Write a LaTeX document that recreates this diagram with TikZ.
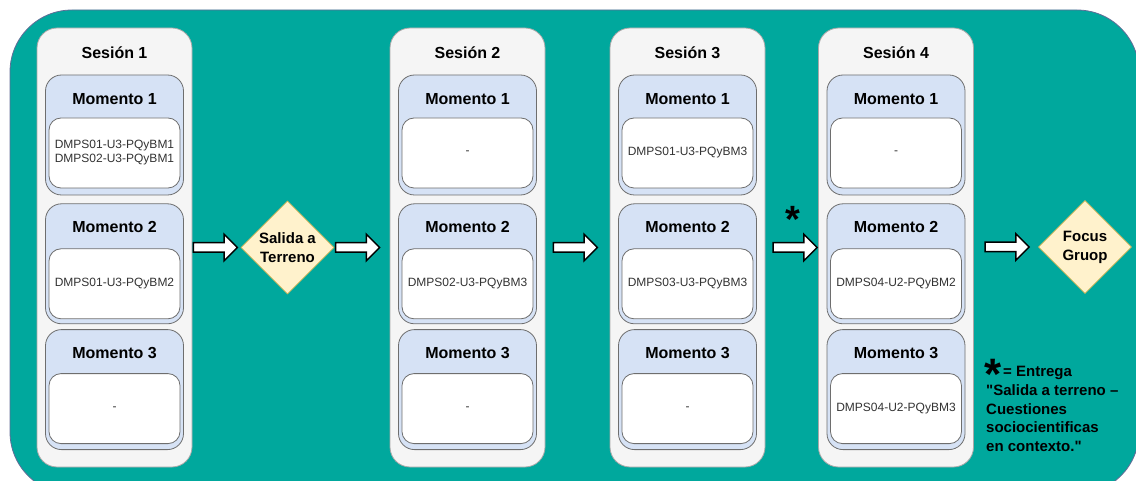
\documentclass[tikz,border=0pt]{standalone}
\usepackage{fontspec}
\setmainfont{Liberation Sans}[Ligatures=TeXOff]
\usetikzlibrary{positioning,shapes.geometric,shapes.arrows}

\definecolor{fondo}{RGB}{0,168,157}
\definecolor{fondoborde}{RGB}{98,108,150}
\definecolor{sesionfill}{RGB}{245,245,245}
\definecolor{momentofill}{RGB}{214,226,245}
\definecolor{decisionfill}{RGB}{255,242,204}
\definecolor{decisionborde}{RGB}{214,182,86}
\definecolor{borde}{RGB}{110,110,110}

\begin{document}
\begin{tikzpicture}[x=1pt, y=-1pt,
  session_box/.style={draw=borde!60, line width=0.8pt, fill=sesionfill, rounded corners=20pt,
    minimum width=155pt, minimum height=439pt, inner sep=0pt},
  momento_box/.style={draw=borde, line width=0.8pt, fill=momentofill, rounded corners=16pt,
    minimum width=138pt, minimum height=120pt, inner sep=0pt},
  content_box/.style={draw=borde, line width=0.8pt, fill=white, rounded corners=12pt,
    minimum width=131pt, minimum height=70pt, inner sep=0pt, align=center,
    text=black!80, font=\fontsize{12}{14}\selectfont},
  title_text/.style={inner sep=0pt, font=\bfseries\fontsize{16}{19}\selectfont},
  decision/.style={shape=diamond, draw=decisionborde, line width=0.8pt, fill=decisionfill,
    minimum width=93pt, minimum height=93pt, inner sep=0pt, align=center,
    font=\bfseries\fontsize{15}{19}\selectfont},
  block_arrow/.style={shape=single arrow, draw=black, line width=1.5pt, fill=white,
    minimum height=44pt, text height=4pt, text depth=4pt, text width=0pt,
    single arrow head extend=8.5pt, inner sep=0pt, outer sep=0pt},
  star_text/.style={inner sep=0pt, font=\bfseries\fontsize{38}{38}\selectfont},
  legend_text/.style={inner sep=0pt, align=left, font=\bfseries\fontsize{15}{18.7}\selectfont}
]
\useasboundingbox (0,0) rectangle (1136,481);
\begin{scope}
\clip (0,0) rectangle (1136,481);
\filldraw[fill=fondo, draw=fondoborde, line width=0.8pt, rounded corners=62pt] (10,10) rectangle (1139,494);
\end{scope}

\node (session_1) [session_box] at (114.5,247.5) {};
\node (session_2) [session_box] at (467.5,247.5) {};
\node (session_3) [session_box] at (687.5,247.5) {};
\node (session_4) [session_box] at (896,247.5) {};
\node (salida) [decision] at (287.5,247.5) {Salida a\\Terreno};
\node (focus) [decision] at (1085,247) {Focus\\Gruop};

\node (arr_1) [block_arrow, right=1pt of session_1] {};
\node (arr_2) [block_arrow, left=10pt of session_2] {};
\node (arr_3) [block_arrow, right=8pt of session_2] {};
\node (arr_4) [block_arrow, left=1pt of session_4] {};
\node (arr_5) [block_arrow, left=9pt of focus] {};

\node (session_title_1) [title_text] at ([yshift=-25pt]session_1.north) {Sesión 1};
\node (momento_1_1) [momento_box, below=47pt of session_1.north] {};
\node (momento_1_2) [momento_box, below=8pt of momento_1_1] {};
\node (momento_1_3) [momento_box, below=5pt of momento_1_2] {};
\node (label_1_1) [title_text] at ([yshift=-24pt]momento_1_1.north) {Momento 1};
\node (label_1_2) [title_text] at ([yshift=-24pt]momento_1_2.north) {Momento 2};
\node (label_1_3) [title_text] at ([yshift=-24pt]momento_1_3.north) {Momento 3};
\node (content_1_1) [content_box, below=43pt of momento_1_1.north] {DMPS01-U3-PQyBM1\\DMPS02-U3-PQyBM1};
\node (content_1_2) [content_box, below=45pt of momento_1_2.north] {DMPS01-U3-PQyBM2};
\node (content_1_3) [content_box, below=44pt of momento_1_3.north] {-};

\node (session_title_2) [title_text] at ([yshift=-25pt]session_2.north) {Sesión 2};
\node (momento_2_1) [momento_box, below=47pt of session_2.north] {};
\node (momento_2_2) [momento_box, below=8pt of momento_2_1] {};
\node (momento_2_3) [momento_box, below=5pt of momento_2_2] {};
\node (label_2_1) [title_text] at ([yshift=-24pt]momento_2_1.north) {Momento 1};
\node (label_2_2) [title_text] at ([yshift=-24pt]momento_2_2.north) {Momento 2};
\node (label_2_3) [title_text] at ([yshift=-24pt]momento_2_3.north) {Momento 3};
\node (content_2_1) [content_box, below=43pt of momento_2_1.north] {-};
\node (content_2_2) [content_box, below=45pt of momento_2_2.north] {DMPS02-U3-PQyBM3};
\node (content_2_3) [content_box, below=44pt of momento_2_3.north] {-};

\node (session_title_3) [title_text] at ([yshift=-25pt]session_3.north) {Sesión 3};
\node (momento_3_1) [momento_box, below=47pt of session_3.north] {};
\node (momento_3_2) [momento_box, below=8pt of momento_3_1] {};
\node (momento_3_3) [momento_box, below=5pt of momento_3_2] {};
\node (label_3_1) [title_text] at ([yshift=-24pt]momento_3_1.north) {Momento 1};
\node (label_3_2) [title_text] at ([yshift=-24pt]momento_3_2.north) {Momento 2};
\node (label_3_3) [title_text] at ([yshift=-24pt]momento_3_3.north) {Momento 3};
\node (content_3_1) [content_box, below=43pt of momento_3_1.north] {DMPS01-U3-PQyBM3};
\node (content_3_2) [content_box, below=45pt of momento_3_2.north] {DMPS03-U3-PQyBM3};
\node (content_3_3) [content_box, below=44pt of momento_3_3.north] {-};

\node (session_title_4) [title_text] at ([yshift=-25pt]session_4.north) {Sesión 4};
\node (momento_4_1) [momento_box, below=47pt of session_4.north] {};
\node (momento_4_2) [momento_box, below=8pt of momento_4_1] {};
\node (momento_4_3) [momento_box, below=5pt of momento_4_2] {};
\node (label_4_1) [title_text] at ([yshift=-24pt]momento_4_1.north) {Momento 1};
\node (label_4_2) [title_text] at ([yshift=-24pt]momento_4_2.north) {Momento 2};
\node (label_4_3) [title_text] at ([yshift=-24pt]momento_4_3.north) {Momento 3};
\node (content_4_1) [content_box, below=43pt of momento_4_1.north] {-};
\node (content_4_2) [content_box, below=45pt of momento_4_2.north] {DMPS04-U2-PQyBM2};
\node (content_4_3) [content_box, below=44pt of momento_4_3.north] {DMPS04-U2-PQyBM3};

\node (entrega_mark) [star_text, anchor=north] at ([yshift=41pt]arr_4.center) {*};
\node (legend_mark) [star_text, anchor=north, font=\bfseries\fontsize{44}{44}\selectfont] at (993.5,359) {*};
\node (legend_head) [legend_text, anchor=base west] at (1003,376) {= Entrega};
\node (legend_body) [legend_text, anchor=north west] at (986,384.5)
  {"Salida a terreno –\\Cuestiones\\sociocientificas\\en contexto."};
\end{tikzpicture}
\end{document}
